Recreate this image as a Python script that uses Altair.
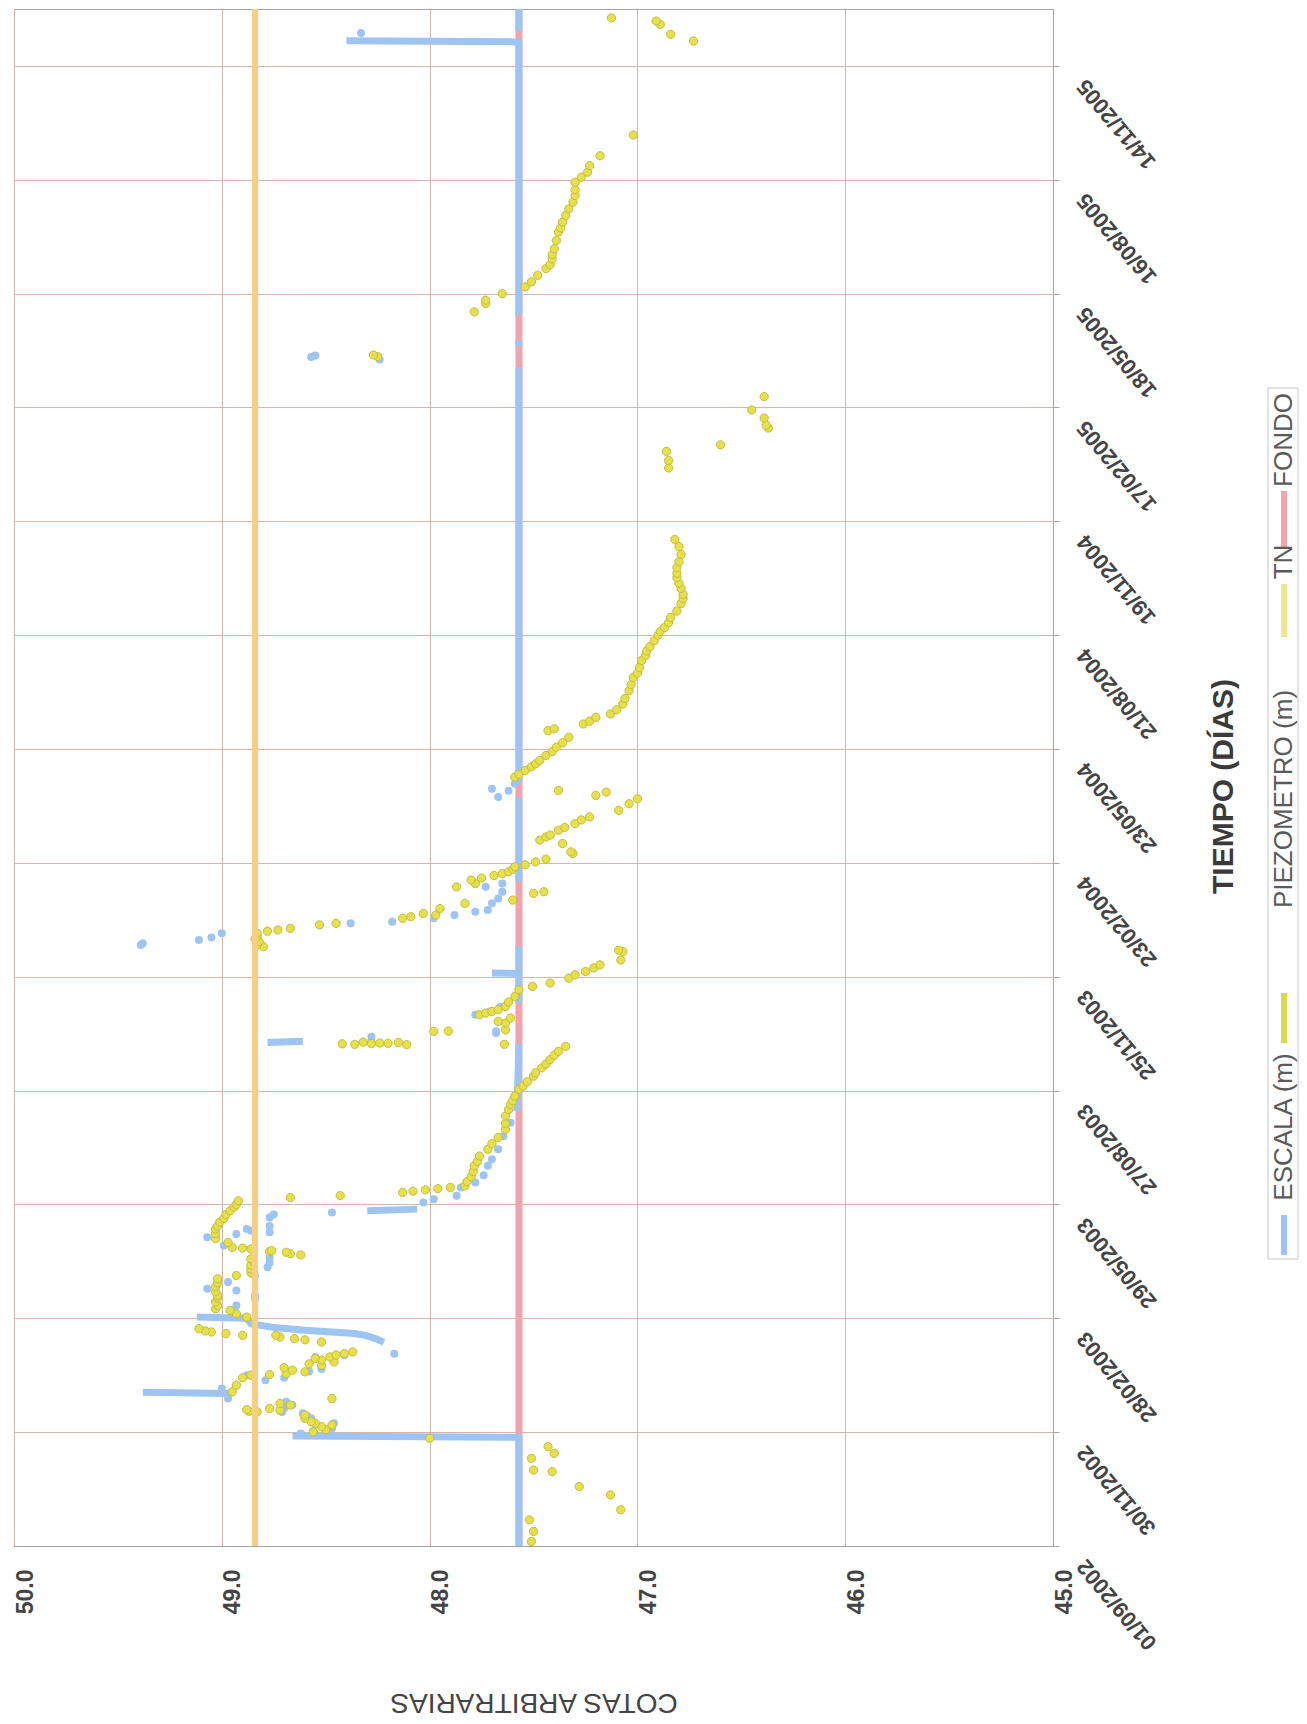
import altair as alt
import pandas as pd

# ---------------- data (days counted from 01/09/2002) ----------------
tick_labels = ["01/09/2002", "30/11/2002", "28/02/2003", "29/05/2003", "27/08/2003",
               "25/11/2003", "23/02/2004", "23/05/2004", "21/08/2004", "19/11/2004",
               "17/02/2005", "18/05/2005", "16/08/2005", "14/11/2005"]
tick_step = 90
value_ticks = [45.0, 46.0, 47.0, 48.0, 49.0, 50.0]
day_span = [0, 1215]

tn_level = 48.84
fondo_level = 47.57

# ESCALA (m): connected runs
escala_run_d = [
    [0, 86, 87],
    [120.5, 121.5],
    [161, 164, 166.5, 168, 170.5, 173, 175.7, 180, 181],
    [265, 266.3],
    [344, 397],
    [398, 399],
    [429, 452.5, 453],
    [454, 474],
    [525, 592],
    [604, 932],
    [948, 953],
    [973, 1189, 1190],
    [1198, 1215],
]
escala_run_v = [
    [47.57, 47.57, 48.66],
    [48.96, 49.38],
    [48.22, 48.26, 48.31, 48.36, 48.60, 48.76, 48.86, 48.88, 49.12],
    [48.30, 48.06],
    [47.58, 47.57],
    [48.78, 48.61],
    [47.57, 47.57, 47.70],
    [47.57, 47.57],
    [47.57, 47.57],
    [47.57, 47.57],
    [47.57, 47.57],
    [47.57, 47.57, 48.40],
    [47.57, 47.57],
]
# ESCALA (m): isolated readings
escala_pt_d = [89, 91, 93, 97, 101, 103, 105, 106, 108.8, 111.4, 114, 116.6, 124.5, 127, 131, 133,
               135, 138, 140, 149.5, 150.8, 152, 190.2, 195.5, 198, 202, 203.3, 208.6, 213.8, 220.4,
               224, 228, 237.5, 244, 245.3, 246.7, 248, 249.3, 250.6, 253, 259.7, 262, 263.7, 271.6,
               274.2, 276.8, 283.4, 287.3, 293, 300.5, 305.7, 313.6, 324, 334.6, 399, 402.5, 405.5,
               407, 420, 422.6, 426, 475, 476.5, 479, 481, 484.3, 492.2, 493.5, 496.2, 498.8, 501.4,
               502.7, 508, 511.9, 517.2, 521.1, 523.7, 592, 597, 598.6, 602.5, 938, 940, 941, 1196]
escala_pt_v = [48.62, 48.56, 48.47, 48.46, 48.57, 48.59, 48.61, 48.71, 48.70, 48.66, 48.69, 48.97,
               49.00, 48.93, 48.79, 48.70, 48.88, 48.58, 48.52, 48.55, 48.41, 48.17, 48.93, 48.84,
               48.84, 48.93, 49.07, 48.97, 48.84, 48.78, 48.77, 48.77, 48.99, 49.07, 49.03, 48.93,
               48.77, 48.86, 48.88, 48.77, 48.77, 48.75, 48.47, 48.03, 47.98, 47.87, 47.85, 47.78,
               47.74, 47.72, 47.70, 47.67, 47.645, 47.61, 48.28, 48.28, 47.68, 47.68, 47.78, 47.71,
               47.66, 49.39, 49.38, 49.11, 49.05, 49.00, 48.38, 48.18, 47.98, 47.88, 47.78, 47.72,
               47.70, 47.67, 47.65, 47.73, 47.65, 47.67, 47.62, 47.70, 47.59, 48.24, 48.57, 48.55,
               48.33]

# PIEZOMETRO (m)
piezo_d = [3.6, 11.5, 20.7, 28.6, 40.4, 47, 58.8, 60, 69.3, 73.3, 78.5, 85.1,
           90.3, 92, 94.3, 95.6, 97, 98.3, 100.9, 103.5, 106.1, 106.5, 107.4, 107.8, 108.7, 111.4,
           112.7, 116.6, 121.9,
           127.1, 133, 135, 135.5, 136.3, 137.7, 139, 141, 142.9, 144, 145.5, 147, 148.2, 149.5,
           151, 152.1, 153.4,
           161.3, 163, 163.9, 165.2, 166.5, 166.5, 167.9, 169.2, 170, 171.8,
           181, 183.6, 186.2, 187.5, 190.2, 193, 196, 198, 201, 205, 208, 211.2, 213.8, 216, 219,
           222, 225, 227, 230.1, 231, 232.2, 232.8, 233.5, 234.8, 235.5, 236, 240, 243, 247,
           250.6, 253, 256, 259, 262, 265, 268, 270, 272.9, 275.5, 277, 279.5, 280.5, 281.5, 282.5,
           283.5, 284.7, 288, 292, 296, 300.5, 304, 308.3, 313.6, 318, 323, 329.4, 334, 339.9, 345,
           349, 352, 355.6, 361, 363.5, 367, 371.4, 374, 378, 381, 384.5, 388, 391, 395,
           396.3, 396.5, 396.6, 397, 397.2, 397.4, 397.6, 398, 398.3, 406.8, 407, 408, 413.4, 414.7,
           417.4, 420, 421.3, 422.6, 424, 426.5, 430, 434.4, 439.7, 442.3, 445, 448.9, 451.5, 454.1,
           457, 459.4, 463.3, 469.9, 471,
           473.8, 475, 477.8, 480, 482, 484.3, 486, 487, 488.3, 491, 492.2, 496.2, 497.5, 498.8,
           500, 504, 508, 510.6, 515.9, 517.2, 521, 523.7, 526.4, 528, 530, 531.6, 533, 535, 536.9,
           538.5, 540.8, 543, 547.4, 548.7,
           555.3, 558, 560.5, 562, 565.8, 568, 571, 574, 576.3, 581.5, 586.8, 590.7, 593.4, 596,
           597.3,
           607.8, 610, 613, 616, 618.3, 621, 624.9, 628, 631.5, 635, 639.3, 644.6, 646, 649.8, 652,
           655.1, 657.7, 661, 665.6, 670, 676.1, 681, 686.6, 690, 694.5, 700, 704, 707.6, 711,
           715.5, 720, 723, 726, 730, 734, 739.1, 745, 749, 752.3,
           757, 761, 765.5, 769, 773.4, 778, 783.9, 790, 795.7,
           852.2, 858, 865.3, 870.5, 883.7, 886, 891.6, 898.1, 908.6,
           940.2, 941.5, 975.6, 982.2,
           984.8, 990, 995.3, 999.3, 1004.5, 1009.8, 1013, 1017.6, 1021, 1025.5, 1032, 1038.7,
           1042, 1046.5, 1051.8, 1057, 1062.3, 1067.6, 1072, 1078, 1082, 1086, 1091.2, 1099,
           1115.4,
           1189.7, 1195, 1202.8, 1205.5, 1208]
piezo_v = [47.51, 47.50, 47.52, 47.08, 47.13, 47.28, 47.41, 47.50, 47.51, 47.40, 47.43, 48.00,
           48.56, 48.50, 48.52, 48.47, 48.55, 48.57, 48.60, 48.60, 48.83, 48.87, 48.72, 48.88, 48.77,
           48.67, 48.72, 48.47, 48.95,
           48.93, 48.90, 48.86, 48.77, 48.69, 48.60, 48.66, 48.70, 48.52, 48.58, 48.46, 48.52,
           48.55, 48.48, 48.45, 48.41, 48.37,
           48.52, 48.60, 48.65, 48.72, 48.74, 48.90, 48.98, 49.05, 49.08, 49.11,
           48.88, 48.93, 48.96, 49.03, 49.02, 49.03, 49.02, 49.02, 49.03, 49.03, 49.02, 49.02,
           48.93, 48.86, 48.86, 48.86, 48.85, 48.86, 48.62, 48.67, 48.69, 48.77, 48.76, 48.86,
           48.90, 48.95, 48.97, 49.03, 49.03,
           49.03, 49.02, 49.01, 48.99, 48.98, 48.96, 48.94, 48.93, 48.92, 48.67, 48.43, 48.13,
           48.08, 48.02, 47.96, 47.90, 47.83, 47.82, 47.80, 47.79, 47.785, 47.77, 47.76, 47.72,
           47.70, 47.67, 47.635, 47.635, 47.635, 47.62, 47.61, 47.60, 47.59, 47.57, 47.55, 47.53,
           47.50, 47.49, 47.46, 47.44, 47.42, 47.40, 47.38, 47.345,
           48.11, 48.36, 47.64, 48.42, 48.28, 48.20, 48.24, 48.15, 48.32, 47.98, 47.91, 47.635,
           47.635, 47.67, 47.61, 47.76, 47.73, 47.70, 47.67, 47.635, 47.62, 47.59, 47.57, 47.505,
           47.42, 47.33, 47.30, 47.25, 47.21, 47.18, 47.08, 47.07, 47.09,
           48.80, 48.83, 48.82, 48.84, 48.83, 48.83, 48.78, 48.73, 48.67, 48.53, 48.45, 48.13,
           48.09, 47.97, 48.03, 47.95, 47.83, 47.60, 47.50, 47.45, 47.87, 47.78, 47.80, 47.75,
           47.69, 47.65, 47.62, 47.60, 47.59, 47.54, 47.49, 47.44, 47.31, 47.32,
           47.36, 47.47, 47.44, 47.42, 47.38, 47.35, 47.30, 47.27, 47.23, 47.09, 47.04, 47.00,
           47.20, 47.15, 47.38,
           47.59, 47.57, 47.54, 47.51, 47.49, 47.47, 47.44, 47.41, 47.39, 47.36, 47.33, 47.43,
           47.40, 47.26, 47.23, 47.20, 47.13, 47.10, 47.07, 47.06, 47.04, 47.03, 47.02, 47.00,
           46.99, 46.98, 46.96, 46.955, 46.94, 46.92, 46.90, 46.89, 46.87, 46.85, 46.84, 46.81,
           46.79, 46.78, 46.78,
           46.79, 46.80, 46.81, 46.81, 46.81, 46.80, 46.79, 46.80, 46.82,
           46.85, 46.85, 46.86, 46.60, 46.37, 46.38, 46.39, 46.45, 46.39,
           48.25, 48.27, 47.785, 47.73,
           47.73, 47.65, 47.54, 47.51, 47.48, 47.44, 47.42, 47.41, 47.41, 47.40, 47.39, 47.38,
           47.37, 47.36, 47.345, 47.33, 47.31, 47.30, 47.30, 47.30, 47.27, 47.24, 47.23, 47.18,
           47.02,
           46.73, 46.84, 46.89, 46.91, 47.125]

legend_labels = ["ESCALA (m)", "PIEZOMETRO (m)", "TN", "FONDO"]

# ---------------- styles / layout ----------------
BLUE = "#9dc4f2"
PIEZO_FILL = "#e6e04c"
PIEZO_STROKE = "#c4bd3c"
TN_COLOR = "#f6cf82"
PINK = "#f2a3ad"
GRID = "#d8b5ab"
FRAME = "#a3a3a3"
legend_colors = [BLUE, "#d6da4e", "#efe68e", PINK]

PLOT_W, PLOT_H = 1039, 1537
FONT = "Liberation Sans"

# ---------------- frames ----------------
rows = []
seq = 0
for rid, (ds, vs) in enumerate(zip(escala_run_d, escala_run_v)):
    for d, v in zip(ds, vs):
        rows.append({"d": d, "v": v, "run": rid, "seq": seq})
        seq += 1
esc_lines_df = pd.DataFrame(rows)
esc_pts_df = pd.DataFrame({"d": escala_pt_d, "v": escala_pt_v})
piezo_df = pd.DataFrame({"d": piezo_d, "v": piezo_v})
fondo_df = pd.DataFrame({"d": day_span, "v": [fondo_level] * 2})
tn_df = pd.DataFrame({"d": day_span, "v": [tn_level] * 2})

label_expr = "[" + ",".join("'%s'" % s for s in tick_labels) + "][round(datum.value / %d)]" % tick_step
tick_days = [i * tick_step for i in range(len(tick_labels))]

x_axis = alt.Axis(orient="bottom", values=value_ticks, format=".1f",
                  labelAngle=270, labelAlign="right", labelBaseline="top",
                  labelFontSize=23, labelFontWeight="bold", labelColor="#444444",
                  labelPadding=23, ticks=False, domainColor=FRAME,
                  grid=True, gridColor=GRID, gridWidth=1,
                  labelFlush=False, labelOverlap=False,
                  title="COTAS ARBITRARIAS", titleAngle=180, titleFontSize=28,
                  titleFontWeight="normal", titleColor="#444444",
                  titleY=155, titleBaseline="middle", titleAlign="center")
y_axis = alt.Axis(orient="right", values=tick_days, labelExpr=label_expr,
                  labelAngle=230, labelAlign="right", labelBaseline="middle",
                  labelFontSize=22, labelFontWeight="bold", labelColor="#444444",
                  labelPadding=22, labelOffset=16, tickSize=6, tickColor=FRAME,
                  domainColor=FRAME, grid=True, gridColor=GRID, gridWidth=1,
                  labelFlush=False, labelOverlap=False, labelBound=False,
                  title="TIEMPO (DÍAS)", titleAngle=270, titleFontSize=30,
                  titleFontWeight="bold", titleColor="#3a3a3a",
                  titleX=170, titleY=777, titleAlign="center", titleBaseline="middle")

X = alt.X("v:Q", scale=alt.Scale(domain=[45, 50], reverse=True, nice=False, zero=False), axis=x_axis)
Y = alt.Y("d:Q", scale=alt.Scale(domain=day_span, nice=False, zero=False), axis=y_axis)

fondo = alt.Chart(fondo_df).mark_line(color=PINK, strokeWidth=7).encode(x=X, y=Y)
esc_lines = alt.Chart(esc_lines_df).mark_line(color=BLUE, strokeWidth=7, strokeJoin="round").encode(
    x=X, y=Y, detail="run:N", order="seq:Q")
esc_pts = alt.Chart(esc_pts_df).mark_circle(color=BLUE, size=64, opacity=1).encode(x=X, y=Y)
piezo = alt.Chart(piezo_df).mark_point(shape="circle", filled=True, fill=PIEZO_FILL,
                                       stroke=PIEZO_STROKE, strokeWidth=1, size=68,
                                       opacity=1).encode(x=X, y=Y)
tn = alt.Chart(tn_df).mark_line(color=TN_COLOR, strokeWidth=6).encode(x=X, y=Y)

main = alt.layer(fondo, esc_lines, esc_pts, piezo, tn).properties(width=PLOT_W, height=PLOT_H)

# ---------------- legend panel (rotated, reads bottom-to-top) ----------------
LEG_W = 30
leg_box = pd.DataFrame({"x": [0], "x2": [LEG_W], "y": [379], "y2": [1250]})
leg_sym = pd.DataFrame({"x": [16] * 4,
                        "y": [1206, 984, 575, 482],
                        "y2": [1246, 1034, 628, 538],
                        "c": legend_colors})
leg_txt = pd.DataFrame({"x": [16] * 4,
                        "y": [1118, 790, 553, 431],
                        "label": legend_labels})
LX = alt.X("x:Q", scale=alt.Scale(domain=[0, LEG_W], nice=False, zero=False), axis=None)
LY = alt.Y("y:Q", scale=alt.Scale(domain=[0, PLOT_H], reverse=True, nice=False, zero=False), axis=None)

box = alt.Chart(leg_box).mark_rect(fill="white", stroke="#c8c8c8", strokeWidth=1).encode(
    x=LX, x2="x2:Q", y=LY, y2="y2:Q")
syms = alt.Chart(leg_sym).mark_rule(strokeWidth=6).encode(
    x=LX, y=LY, y2="y2:Q", color=alt.Color("c:N", scale=None))
texts = alt.Chart(leg_txt).mark_text(angle=270, align="center", baseline="middle",
                                     fontSize=26, color="#5a5a5a", font=FONT).encode(
    x=LX, y=LY, text="label:N")
legend = alt.layer(box, syms, texts).properties(
    width=LEG_W, height=PLOT_H, view=alt.ViewBackground(strokeOpacity=0))

chart = alt.hconcat(main, legend, spacing=28).properties(
    padding={"left": 5, "top": -14, "right": 0, "bottom": 2}
).configure(font=FONT).configure_view(stroke=FRAME, strokeWidth=1)

chart.save("out.html", embed_options={"renderer": "svg", "actions": False})
